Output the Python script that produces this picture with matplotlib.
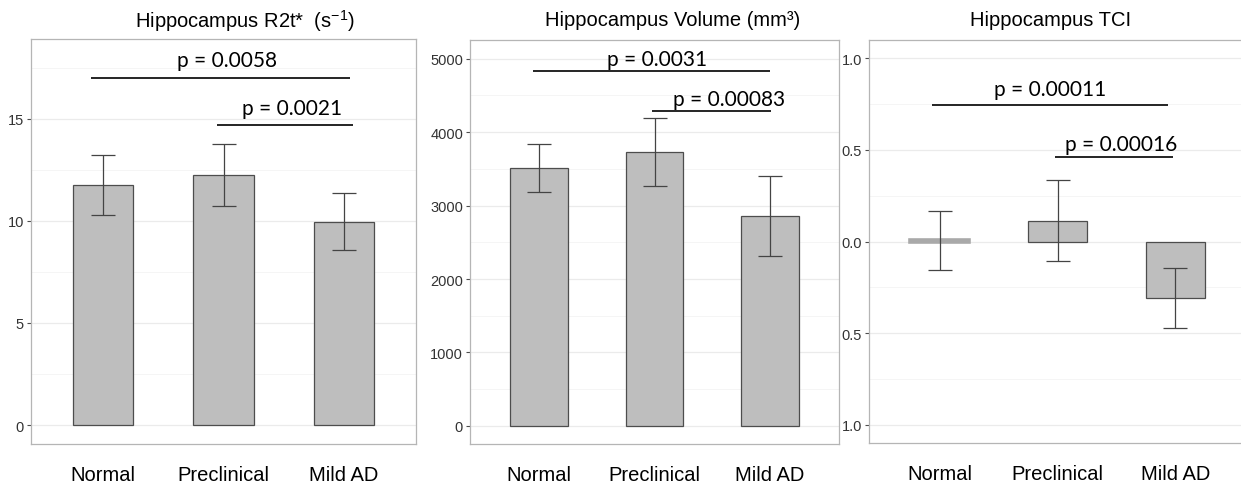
import numpy as np
import matplotlib
matplotlib.use('Agg')
import matplotlib.pyplot as plt
import matplotlib.ticker as mticker

plt.rcParams['font.family'] = ['Liberation Sans', 'DejaVu Sans']
plt.rcParams['mathtext.fontset'] = 'custom'
plt.rcParams['mathtext.rm'] = 'Liberation Sans'
plt.rcParams['mathtext.it'] = 'Liberation Sans:italic'

groups = ['Normal', 'Preclinical', 'Mild AD']

# hippocampus R2t* (1/s), mean and error
r2t_mean = [11.75, 12.25, 9.95]
r2t_err = [1.45, 1.52, 1.40]
r2t_ticks = [0, 5, 10, 15]
r2t_tick_labels = ['0', '5', '10', '15']
r2t_p = ['p = 0.0058', 'p = 0.0021']

# hippocampus volume (mm3)
vol_mean = [3515, 3725, 2855]
vol_err = [325, 462, 545]
vol_ticks = [0, 1000, 2000, 3000, 4000, 5000]
vol_tick_labels = ['0', '1000', '2000', '3000', '4000', '5000']
vol_p = ['p = 0.0031', 'p = 0.00083']

# hippocampus TCI
tci_mean = [0.007, 0.114, -0.31]
tci_err = [0.16, 0.22, 0.163]
tci_ticks = [1.0, 0.5, 0.0, -0.5, -1.0]
tci_tick_labels = ['1.0', '0.5', '0.0', '0.5', '1.0']
tci_p = ['p = 0.00011', 'p = 0.00016']

BAR = '#bebebe'
EDGE = '#4d4d4d'
W, H = 1241, 485


def px_rect(left, right, top, bottom):
    return [left / W, 1 - bottom / H, (right - left) / W, (bottom - top) / H]


def bar_panel(fig, rect, means, errs, ylim, ticks, tick_labels, minor_step,
              brackets, pvals):
    ax = fig.add_axes(rect)
    x = np.arange(1, len(groups) + 1)
    # near-zero bars collapse into a thick grey stroke
    flat = [abs(m) <= 0.02 for m in means]
    edges = ['#a9a9a9' if f else EDGE for f in flat]
    widths = [2.6 if f else 0.9 for f in flat]
    ax.bar(x, means, width=0.5, color=BAR, edgecolor=edges, linewidth=widths,
           zorder=2)
    ax.errorbar(x, means, yerr=errs, fmt='none', ecolor='#444444',
                elinewidth=0.9, capsize=8.3, capthick=0.9, zorder=3)

    ax.set_xlim(0.4, 3.6)
    ax.set_ylim(*ylim)
    ax.set_xticks(x)
    ax.set_xticklabels(groups)
    ax.set_yticks(ticks)
    ax.set_yticklabels(tick_labels)
    ax.yaxis.set_minor_locator(mticker.MultipleLocator(minor_step))

    ax.grid(axis='y', which='major', color='#ebebeb', linewidth=0.9, zorder=0)
    ax.grid(axis='y', which='minor', color='#f5f5f5', linewidth=0.7, zorder=0)
    ax.set_axisbelow(True)
    for s in ax.spines.values():
        s.set_color('#b5b5b5')
        s.set_linewidth(0.9)

    ax.tick_params(axis='x', length=0, pad=15, labelsize=14.5,
                   labelcolor='black')
    ax.tick_params(axis='y', which='major', length=3, width=0.8,
                   color='#4d4d4d', labelsize=10.5, labelcolor='#333333',
                   pad=2)
    ax.tick_params(axis='y', which='minor', length=0)

    for (x1, x2, y, tx, ty), label in zip(brackets, pvals):
        ax.plot([x1, x2], [y, y], color='black', linewidth=1.2,
                solid_capstyle='butt', zorder=4)
        ax.text(tx, ty, label, ha='center', va='center', fontsize=15,
                family=['Lato', 'DejaVu Sans'], zorder=5)
    return ax


fig = plt.figure(figsize=(W / 100, H / 100), dpi=100)

bar_panel(fig, px_rect(31, 416, 40, 445), r2t_mean, r2t_err,
          (-0.93, 18.9), r2t_ticks, r2t_tick_labels, 2.5,
          [(0.90, 3.05, 17.0, 2.03, 17.85), (1.95, 3.08, 14.7, 2.57, 15.5)],
          r2t_p)
fig.text(245 / W, 1 - 21 / H, 'Hippocampus R2t*  (s$^{-1}$)', ha='center',
         va='center', fontsize=14.5)

bar_panel(fig, px_rect(470, 839, 41, 445), vol_mean, vol_err,
          (-245, 5252), vol_ticks, vol_tick_labels, 500,
          [(0.945, 3.0, 4830, 2.02, 4995), (1.98, 3.01, 4285, 2.65, 4450)],
          vol_p)
fig.text(673 / W, 1 - 21 / H, 'Hippocampus Volume (mm\u00b3)', ha='center',
         va='center', fontsize=14.5)

bar_panel(fig, px_rect(869, 1246, 41, 444), tci_mean, tci_err,
          (-1.1, 1.1), tci_ticks, tci_tick_labels, 0.25,
          [(0.934, 2.94, 0.745, 1.94, 0.83), (1.976, 2.98, 0.462, 2.54, 0.53)],
          tci_p)
fig.text(1051 / W, 1 - 21 / H, 'Hippocampus TCI', ha='center', va='center',
         fontsize=14.5)

fig.savefig('out.png', dpi=100)
